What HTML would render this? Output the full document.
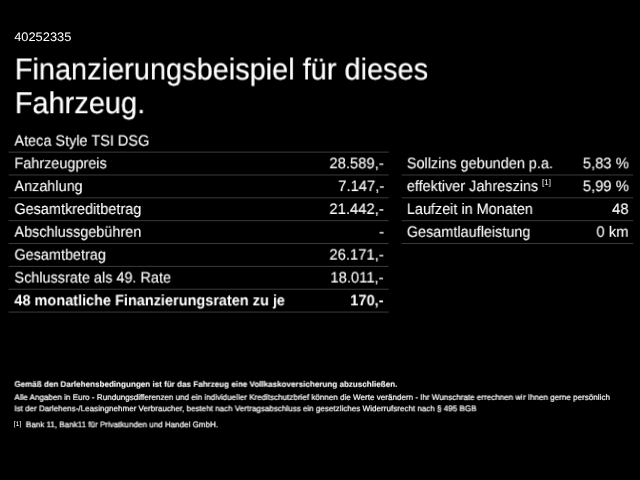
<!DOCTYPE html>
<html lang="de"><head><meta charset="utf-8">
<style>
html,body{margin:0;padding:0;background:#000;}
body{text-rendering:geometricPrecision;width:640px;height:480px;overflow:hidden;position:relative;color:#fff;font-family:"Liberation Sans",Arial,sans-serif;}
.t{position:absolute;white-space:nowrap;transform-origin:0 0;will-change:transform;}
.r{position:absolute;white-space:nowrap;transform-origin:100% 0;text-align:right;will-change:transform;}
</style></head><body>
<div class="t" style="left:14px;top:29px;font-size:12.4px;line-height:15px;transform:translate3d(0.20px,0.70px,0) scaleX(1.036);">40252335</div>
<div class="t" style="left:14px;top:51px;font-size:30.4px;line-height:36px;transform:translate3d(0.80px,0.47px,0) scaleX(0.952);-webkit-text-stroke:0.2px #fff;">Finanzierungsbeispiel für dieses</div>
<div class="t" style="left:14px;top:85px;font-size:30.4px;line-height:36px;transform:translate3d(0.80px,0.22px,0) scaleX(0.952);-webkit-text-stroke:0.2px #fff;">Fahrzeug.</div>
<div class="t" style="left:14px;top:132px;font-size:15.2px;line-height:18px;transform:translate3d(0.40px,0.63px,0) scaleX(0.953);-webkit-text-stroke:0.1px #fff;">Ateca Style TSI DSG</div>
<svg style="position:absolute;left:0;top:0" width="640" height="480" viewBox="0 0 640 480"><rect x="8.6" y="151.63" width="380.10" height="1" fill="#3b3b3b"/><rect x="8.6" y="174.48" width="380.10" height="1" fill="#3b3b3b"/><rect x="8.6" y="197.33" width="380.10" height="1" fill="#3b3b3b"/><rect x="8.6" y="220.18" width="380.10" height="1" fill="#3b3b3b"/><rect x="8.6" y="243.03" width="380.10" height="1" fill="#3b3b3b"/><rect x="8.6" y="265.88" width="380.10" height="1" fill="#3b3b3b"/><rect x="8.6" y="288.73" width="380.10" height="1" fill="#3b3b3b"/><rect x="8.6" y="311.58" width="380.10" height="1" fill="#3b3b3b"/><rect x="401.6" y="174.48" width="231.60" height="1" fill="#3b3b3b"/><rect x="401.6" y="197.33" width="231.60" height="1" fill="#3b3b3b"/><rect x="401.6" y="220.18" width="231.60" height="1" fill="#3b3b3b"/><rect x="401.6" y="243.03" width="231.60" height="1" fill="#3b3b3b"/></svg>
<div class="t" style="left:14px;top:155px;font-size:15.2px;line-height:18px;transform:translate3d(0.40px,0.26px,0) scaleX(0.951);-webkit-text-stroke:0.1px #fff;">Fahrzeugpreis</div>
<div class="r" style="right:256px;top:155px;font-size:15.2px;line-height:18px;transform:translate3d(0.00px,0.26px,0) scaleX(0.975);-webkit-text-stroke:0.1px #fff;">28.589,-</div>
<div class="t" style="left:14px;top:178px;font-size:15.2px;line-height:18px;transform:translate3d(0.40px,0.11px,0) scaleX(0.951);-webkit-text-stroke:0.1px #fff;">Anzahlung</div>
<div class="r" style="right:256px;top:178px;font-size:15.2px;line-height:18px;transform:translate3d(0.00px,0.11px,0) scaleX(0.975);-webkit-text-stroke:0.1px #fff;">7.147,-</div>
<div class="t" style="left:14px;top:200px;font-size:15.2px;line-height:18px;transform:translate3d(0.40px,0.96px,0) scaleX(0.951);-webkit-text-stroke:0.1px #fff;">Gesamtkreditbetrag</div>
<div class="r" style="right:256px;top:200px;font-size:15.2px;line-height:18px;transform:translate3d(0.00px,0.96px,0) scaleX(0.975);-webkit-text-stroke:0.1px #fff;">21.442,-</div>
<div class="t" style="left:14px;top:223px;font-size:15.2px;line-height:18px;transform:translate3d(0.40px,0.81px,0) scaleX(0.951);-webkit-text-stroke:0.1px #fff;">Abschlussgebühren</div>
<div class="r" style="right:256px;top:223px;font-size:15.2px;line-height:18px;transform:translate3d(0.00px,0.81px,0) scaleX(0.975);-webkit-text-stroke:0.1px #fff;">-</div>
<div class="t" style="left:14px;top:246px;font-size:15.2px;line-height:18px;transform:translate3d(0.40px,0.66px,0) scaleX(0.951);-webkit-text-stroke:0.1px #fff;">Gesamtbetrag</div>
<div class="r" style="right:256px;top:246px;font-size:15.2px;line-height:18px;transform:translate3d(0.00px,0.66px,0) scaleX(0.975);-webkit-text-stroke:0.1px #fff;">26.171,-</div>
<div class="t" style="left:14px;top:269px;font-size:15.2px;line-height:18px;transform:translate3d(0.40px,0.51px,0) scaleX(0.951);-webkit-text-stroke:0.1px #fff;">Schlussrate als 49. Rate</div>
<div class="r" style="right:256px;top:269px;font-size:15.2px;line-height:18px;transform:translate3d(0.00px,0.51px,0) scaleX(0.975);-webkit-text-stroke:0.1px #fff;">18.011,-</div>
<div class="t" style="left:14px;top:292px;font-size:15.2px;line-height:18px;transform:translate3d(0.40px,0.36px,0) scaleX(0.954);font-weight:bold;">48 monatliche Finanzierungsraten zu je</div>
<div class="r" style="right:256px;top:292px;font-size:15.2px;line-height:18px;transform:translate3d(0.00px,0.36px,0) scaleX(0.966);font-weight:bold;">170,-</div>
<div class="t" style="left:406px;top:155px;font-size:15.2px;line-height:18px;transform:translate3d(0.80px,0.26px,0) scaleX(0.951);-webkit-text-stroke:0.1px #fff;">Sollzins gebunden p.a.</div>
<div class="r" style="right:12px;top:155px;font-size:15.2px;line-height:18px;transform:translate3d(0.60px,0.26px,0) scaleX(0.975);-webkit-text-stroke:0.1px #fff;">5,83 %</div>
<div class="t" style="left:406px;top:178px;font-size:15.2px;line-height:18px;transform:translate3d(0.80px,0.11px,0) scaleX(0.951);-webkit-text-stroke:0.1px #fff;">effektiver Jahreszins</div>
<div class="r" style="right:12px;top:178px;font-size:15.2px;line-height:18px;transform:translate3d(0.60px,0.11px,0) scaleX(0.975);-webkit-text-stroke:0.1px #fff;">5,99 %</div>
<div class="t" style="left:406px;top:200px;font-size:15.2px;line-height:18px;transform:translate3d(0.80px,0.96px,0) scaleX(0.951);-webkit-text-stroke:0.1px #fff;">Laufzeit in Monaten</div>
<div class="r" style="right:12px;top:200px;font-size:15.2px;line-height:18px;transform:translate3d(0.60px,0.96px,0) scaleX(0.975);-webkit-text-stroke:0.1px #fff;">48</div>
<div class="t" style="left:406px;top:223px;font-size:15.2px;line-height:18px;transform:translate3d(0.80px,0.81px,0) scaleX(0.951);-webkit-text-stroke:0.1px #fff;">Gesamtlaufleistung</div>
<div class="r" style="right:12px;top:223px;font-size:15.2px;line-height:18px;transform:translate3d(0.60px,0.81px,0) scaleX(0.975);-webkit-text-stroke:0.1px #fff;">0 km</div>
<div class="t" style="left:541px;top:177px;font-size:8.1px;line-height:10px;transform:translate3d(0.90px,0.69px,0) scaleX(1.0);">[1]</div>
<div class="t" style="left:14px;top:379px;font-size:8.1px;line-height:10px;transform:translate3d(0.40px,0.79px,0) scaleX(0.996);font-weight:bold;-webkit-text-stroke:0.1px #fff;">Gemäß den Darlehensbedingungen ist für das Fahrzeug eine Vollkaskoversicherung abzuschließen.</div>
<div class="t" style="left:14px;top:392px;font-size:8.1px;line-height:10px;transform:translate3d(0.40px,0.89px,0) scaleX(0.996);-webkit-text-stroke:0.2px #fff;">Alle Angaben in Euro - Rundungsdifferenzen und ein individueller Kreditschutzbrief können die Werte verändern - Ihr Wunschrate errechnen wir Ihnen gerne persönlich</div>
<div class="t" style="left:14px;top:404px;font-size:8.1px;line-height:10px;transform:translate3d(0.40px,0.24px,0) scaleX(0.996);-webkit-text-stroke:0.2px #fff;">Ist der Darlehens-/Leasingnehmer Verbraucher, besteht nach Vertragsabschluss ein gesetzliches Widerrufsrecht nach § 495 BGB</div>
<div class="t" style="left:13px;top:420px;font-size:6.5px;line-height:8px;transform:translate3d(0.60px,0.85px,0) scaleX(1.1);">[1]</div>
<div class="t" style="left:25px;top:420px;font-size:8.1px;line-height:10px;transform:translate3d(0.80px,0.29px,0) scaleX(0.996);-webkit-text-stroke:0.2px #fff;">Bank 11, Bank11 für Privatkunden und Handel GmbH.</div>
</body></html>
